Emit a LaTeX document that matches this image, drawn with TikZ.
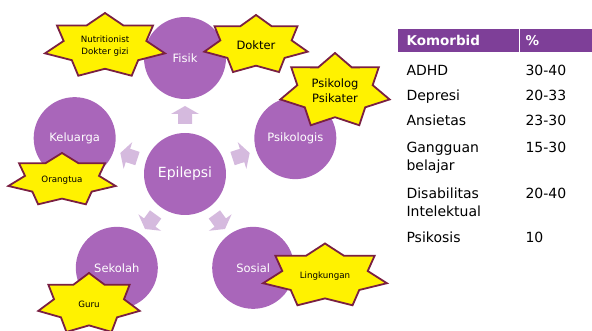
\documentclass[tikz,border=0pt]{standalone}
\usepackage{fontspec}
\setmainfont{DejaVu Sans}
\usetikzlibrary{calc}

\definecolor{ringpurple}{RGB}{169,102,186}
\definecolor{spokelilac}{RGB}{213,186,222}
\definecolor{starrim}{RGB}{122,32,66}
\definecolor{headpurple}{RGB}{126,63,152}

% yellow seven point star with its text: [text style] name, centre, x radius, y radius, text
\newcommand{\sticker}[6][]{%
  \draw[starline,shift={(#3)}] (90:#4 and #5)
    \foreach[evaluate=\k as \f using {1-0.31*mod(\k,2)}] \k in {1,...,13}
      {-- ({90+\k*360/14}:{\f*#4} and {\f*#5})} -- cycle;
  \node[startext,#1] (#2) at (#3) {#6};
}

\begin{document}
\begin{tikzpicture}[x=1pt,y=1pt,
    ring/.style={circle,fill=ringpurple,minimum size=82pt,inner sep=0pt,
                 text=white,font=\fontsize{11.5}{13}\selectfont},
    hub/.style={ring,font=\fontsize{14}{16}\selectfont},
    spoke/.style={fill=spokelilac},
    starline/.style={fill=yellow,draw=starrim,line width=1.8pt,line join=miter},
    startext/.style={align=center,font=\fontsize{8.7}{11}\selectfont},
    bigstar/.style={font=\fontsize{11.5}{15}\selectfont},
    cell/.style={anchor=base west,align=left,font=\fontsize{14}{18}\selectfont},
    headcell/.style={anchor=west,text=white,font=\fontsize{13.5}{16}\selectfont\bfseries}]

  \useasboundingbox (0,0) rectangle (592,331);
  \clip (0,0) rectangle (592,331);

  % circles
  \node[hub]  (epi)    at (185,157)            {Epilepsi};
  \node[ring] (fisik)  at ($(epi)+(90:116)$)   {Fisik};
  \node[ring] (kel)    at ($(epi)+(162:116)$)  {Keluarga};
  \node[ring] (psi)    at ($(epi)+(18:116)$)   {Psikologis};
  \node[ring] (sek)    at ($(epi)+(-126:116)$) {Sekolah};
  \node[ring] (sos)    at ($(epi)+(-54:116)$)  {Sosial};

  % block arrows out of the hub
  \foreach \a in {90,162,18,-126,-54}
    \fill[spoke,shift={($(epi)+(\a:59)$)},rotate=\a]
      (-9,-7) -- (1,-7) -- (1,-14) -- (9,0) -- (1,14) -- (1,7) -- (-9,7) -- cycle;

  % stars
  \sticker[font=\fontsize{8.7}{12}\selectfont]{nutri}{105,285}{61.5}{33}{Nutritionist\\Dokter gizi}
  \sticker[bigstar]{dokter}{256,286}{53}{30}{Dokter}
  \sticker[bigstar]{psikolog}{335,240}{56}{38}{Psikolog\\Psikater}
  \sticker{orangtua}{62,151}{55}{27}{Orangtua}
  \sticker{guru}{89,27}{52}{31}{Guru}
  \sticker{lingk}{325,55}{63.5}{32.5}{Lingkungan}

  % table
  \node[fill=headpurple,minimum width=194pt,minimum height=23pt,inner sep=0pt,
        anchor=south west] (head) at (398,279) {};
  \draw[white,line width=1pt] (519,279) -- (519,302);
  \node[headcell] (komorbid) at (403,290.5) {Komorbid};
  \node[headcell] (pct)      at (522,290.5) {\%};

  \node[cell] (adhd)  at (403,255) {ADHD};
  \node[cell] (dep)   at (403,230) {Depresi};
  \node[cell] (ans)   at (403,205) {Ansietas};
  \node[cell] (gang)  at (403,160) {Gangguan\\belajar};
  \node[cell] (dis)   at (403,114) {Disabilitas\\Intelektual};
  \node[cell] (psiko) at (403,88)  {Psikosis};

  \node[cell] (v1) at (522,255) {30-40};
  \node[cell] (v2) at (522,230) {20-33};
  \node[cell] (v3) at (522,205) {23-30};
  \node[cell] (v4) at (522,178) {15-30};
  \node[cell] (v5) at (522,132) {20-40};
  \node[cell] (v6) at (522,88)  {10};
\end{tikzpicture}
\end{document}
